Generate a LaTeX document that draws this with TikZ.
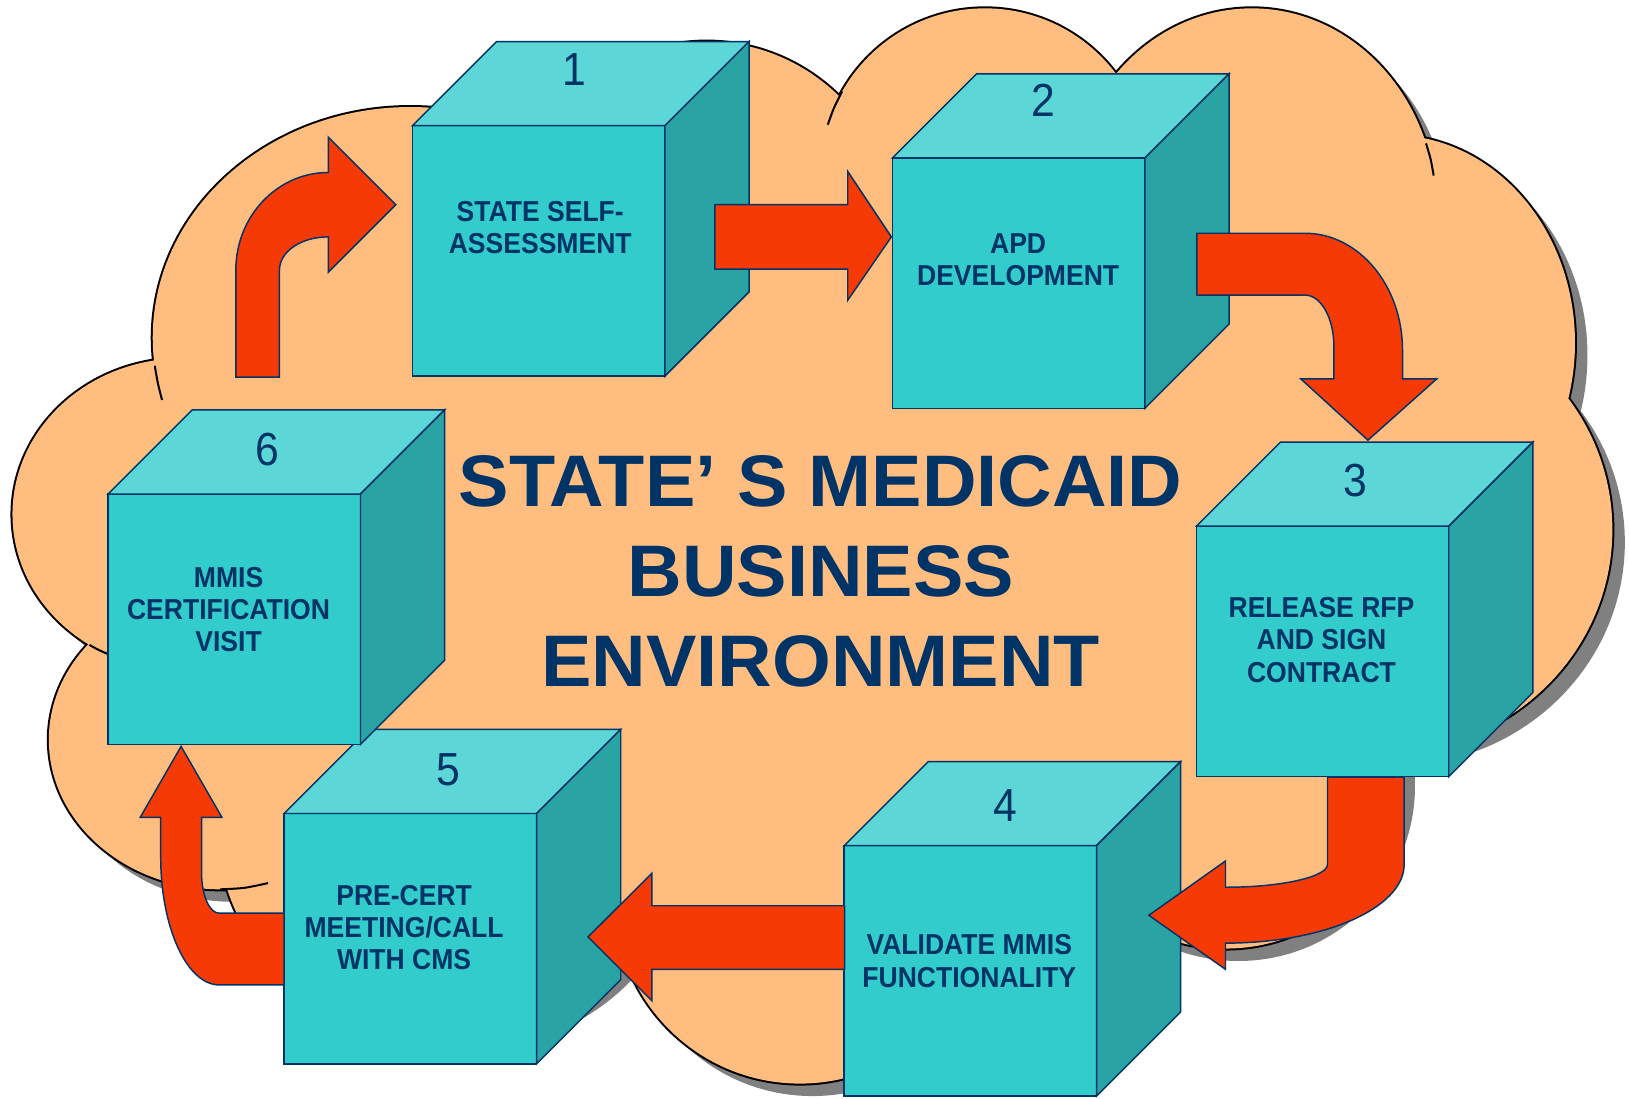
\documentclass[tikz,border=0pt]{standalone}
\usepackage{fontspec}
\setmainfont{Liberation Sans}
\newfontfamily\narrowsans[FakeStretch=0.92]{Liberation Sans}
\newfontfamily\widesans[FakeStretch=1.035]{Liberation Sans}
\usepackage{tikz}
\usetikzlibrary{shapes}
\definecolor{cloudfill}{RGB}{255,190,128}
\definecolor{tealfront}{RGB}{51,204,204}
\definecolor{tealtop}{RGB}{92,214,214}
\definecolor{tealside}{RGB}{41,163,163}
\definecolor{navy}{RGB}{0,51,102}
\definecolor{arrowred}{RGB}{245,58,6}
\definecolor{shadowgray}{RGB}{128,128,128}
\tikzset{ front_face/.style = {rectangle, draw=navy, fill=tealfront, line width=0.4pt, minimum width=24.3mm, minimum height=24.1mm, inner sep=0pt, outer sep=0pt} }
\tikzset{ top_face/.style = {draw=navy, fill=tealtop, line width=0.4pt} }
\tikzset{ side_face/.style = {draw=navy, fill=tealside, line width=0.4pt} }
\tikzset{ block_arrow/.style = {draw=navy, fill=arrowred, line width=0.4pt} }
\tikzset{ step_num/.style = {text=navy, font=\narrowsans\fontsize{12.7}{14}\selectfont, inner sep=0pt} }
\tikzset{ step_text/.style = {text=navy, align=center, font=\narrowsans\bfseries\fontsize{7.9}{8.8}\selectfont, inner sep=0pt} }
\tikzset{ title_text/.style = {text=navy, align=center, font=\widesans\bfseries\fontsize{20}{24.7}\selectfont, inner sep=0pt} }
\tikzset{ cloud_line/.style = {draw=black, line width=1.1pt} }
\tikzset{ cloud_stub/.style = {draw=black, line width=0.55pt} }
% lobes of the cloud and the core that fills the middle
\newcommand\cloudlobes{(175,495) ellipse [x radius=163, y radius=150]
  (395,325) ellipse [x radius=248, y radius=222]
  (680,230) ellipse [x radius=185, y radius=190]
  (948,166) ellipse [x radius=158, y radius=158]
  (1205,204) ellipse [x radius=178, y radius=196]
  (1340,330) ellipse [x radius=176, y radius=200]
  (1330,510) ellipse [x radius=222, y radius=215]
  (1180,745) ellipse [x radius=170, y radius=168]
  (770,865) ellipse [x radius=178, y radius=178]
  (430,800) ellipse [x radius=220, y radius=200]
  (212,712) ellipse [x radius=165, y radius=144]}
\newcommand\cloudcore{(160,360) -- (812,100) -- (1073,75) -- (1370,145) -- (1495,375) -- (1380,710) -- (1060,900) -- (590,915) -- (225,850) -- (95,615) -- cycle}

\begin{document}
\begin{tikzpicture}[x=0.1mm, y=-0.1mm]
    \useasboundingbox (0,0) rectangle (1568,1057);
    % cloud
    \fill[shadowgray, shift={(12,12)}] \cloudlobes;
    \fill[shadowgray, shift={(12,12)}] \cloudcore;
    \draw[cloud_line] \cloudlobes;
    \fill[cloudfill] \cloudlobes;
    \fill[cloudfill] \cloudcore;
    \draw[cloud_stub] plot[smooth] coordinates {(149,352) (152,369) (156,385)};
    \draw[cloud_stub] plot[smooth] coordinates {(810.6,88) (802.7,104) (796.8,120)};
    \draw[cloud_stub] plot[smooth] coordinates {(1372.6,138) (1377,153) (1380,169)};
    \draw[cloud_stub] plot[smooth] coordinates {(86,620.7) (95,625.6) (104,629.6)};
    \draw[cloud_stub] plot[smooth] coordinates {(212,856) (235,854.6) (258,850)};
    % boxes
    \node[front_face] (b1) at (518.5,241.5) {};
    \draw[top_face] (b1.north west) -- ++(81,-81) -- ++(243,0) -- (b1.north east) -- cycle;
    \draw[side_face] (b1.north east) -- ++(81,-81) -- ++(0,241) -- (b1.south east) -- cycle;
    \node[step_num] (n1) at (553,67) {1};
    \node[step_text] (t1) at (520,219) {STATE SELF-\\ASSESSMENT};
    \node[front_face] (b2) at (980.5,272.5) {};
    \draw[top_face] (b2.north west) -- ++(81,-81) -- ++(243,0) -- (b2.north east) -- cycle;
    \draw[side_face] (b2.north east) -- ++(81,-81) -- ++(0,241) -- (b2.south east) -- cycle;
    \node[step_num] (n2) at (1004,97) {2};
    \node[step_text] (t2) at (980,250) {APD\\DEVELOPMENT};
    \node[front_face] (b3) at (1273,627) {};
    \draw[top_face] (b3.north west) -- ++(81,-81) -- ++(243,0) -- (b3.north east) -- cycle;
    \draw[side_face] (b3.north east) -- ++(81,-81) -- ++(0,241) -- (b3.south east) -- cycle;
    \node[step_num] (n3) at (1305,463) {3};
    \node[step_text] (t3) at (1272,616) {RELEASE RFP\\AND SIGN\\CONTRACT};
    \node[front_face] (b4) at (934,934.5) {};
    \draw[top_face] (b4.north west) -- ++(81,-81) -- ++(243,0) -- (b4.north east) -- cycle;
    \draw[side_face] (b4.north east) -- ++(81,-81) -- ++(0,241) -- (b4.south east) -- cycle;
    \node[step_num] (n4) at (968,775) {4};
    \node[step_text] (t4) at (933,925) {VALIDATE MMIS\\FUNCTIONALITY};
    \node[front_face] (b5) at (395,903.5) {};
    \draw[top_face] (b5.north west) -- ++(81,-81) -- ++(243,0) -- (b5.north east) -- cycle;
    \draw[side_face] (b5.north east) -- ++(81,-81) -- ++(0,241) -- (b5.south east) -- cycle;
    \node[step_num] (n5) at (432,741) {5};
    \node[step_text] (t5) at (389,893) {PRE-CERT\\MEETING/CALL\\WITH CMS};
    \node[front_face] (b6) at (225.5,596) {};
    \draw[top_face] (b6.north west) -- ++(81,-81) -- ++(243,0) -- (b6.north east) -- cycle;
    \draw[side_face] (b6.north east) -- ++(81,-81) -- ++(0,241) -- (b6.south east) -- cycle;
    \node[step_num] (n6) at (257,433) {6};
    \node[step_text] (t6) at (220,587) {MMIS\\CERTIFICATION\\VISIT};
    % title
    \node[title_text] (title) at (790,550) {STATE’ S MEDICAID\\BUSINESS\\ENVIRONMENT};
    % block arrows
    \draw[block_arrow] (227,363) -- (227,260) .. controls (227,208) and (267,166) .. (316,166) -- (316,132) -- (381,197) -- (316,262) -- (316,228) .. controls (290,228) and (269,242) .. (269,260) -- (269,363) -- cycle;
    \draw[block_arrow] (688,197) -- (816,197) -- (816,165) -- (858,228) -- (816,289) -- (816,259) -- (688,259) -- cycle;
    \draw[block_arrow] (1152,224.5) -- (1256,224.5) .. controls (1308,224.5) and (1350,275) .. (1350,337) -- (1350,364.6) -- (1383,364.6) -- (1316.7,423.7) -- (1252,364.6) -- (1284,364.6) -- (1284,334) .. controls (1284,306) and (1271.5,284) .. (1256,284) -- (1152,284) -- cycle;
    \draw[block_arrow] (1277.8,748) -- (1351.6,748) -- (1351.6,832) .. controls (1351.6,874) and (1274.6,907.8) .. (1179.6,907.8) -- (1179.6,933) -- (1105.8,881) -- (1179.6,828.7) -- (1179.6,854) .. controls (1233.8,854) and (1277.8,844) .. (1277.8,832) -- cycle;
    \draw[block_arrow] (813,871.8) -- (627.5,871.8) -- (627.5,840.5) -- (566,901.8) -- (627.5,963.3) -- (627.5,933) -- (813,933) -- cycle;
    \draw[block_arrow] (273.5,879) -- (211,879) .. controls (201.6,879) and (194,861.5) .. (194,840) -- (194,786.7) -- (213.6,786.7) -- (174.3,718.4) -- (135,786.7) -- (154.7,786.7) -- (154.7,825) .. controls (154.7,893) and (180,948) .. (211,948) -- (273.5,948) -- cycle;
\end{tikzpicture}
\end{document}
